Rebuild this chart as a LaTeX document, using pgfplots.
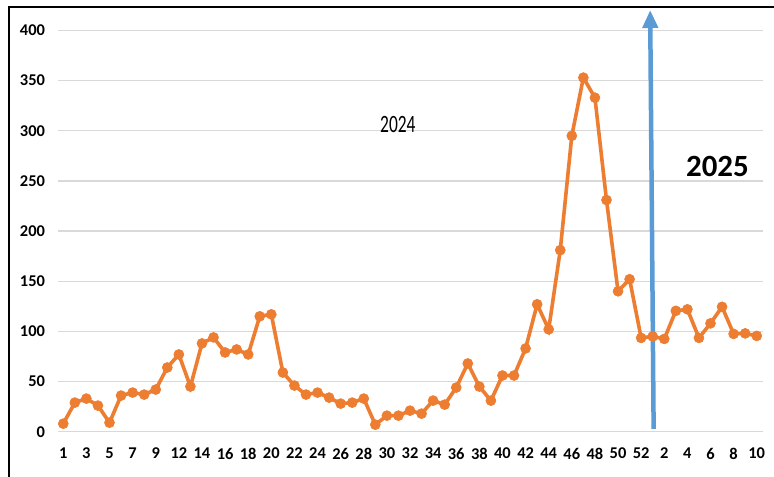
\documentclass[border=0pt]{standalone}
\usepackage{fontspec}
\setmainfont{Carlito}
\usepackage{graphicx}
\usepackage{pgfplots}
\pgfplotsset{compat=1.18}
\usetikzlibrary{arrows.meta}
\definecolor{lineorange}{HTML}{ED7D31}
\definecolor{arrowblue}{HTML}{5B9BD5}
\definecolor{gridgray}{HTML}{D9D9D9}
\newcommand{\tickfont}{\fontsize{16.5}{17}\selectfont\bfseries}
\begin{document}
\begin{tikzpicture}[x=1bp,y=1bp]
\path[use as bounding box] (0,0) rectangle (774,477);
\fill[white] (0,0) rectangle (774,477);
\draw[line width=1.4bp] (9,-5) -- (9,470) -- (780,470);
\begin{axis}[
  at={(57.5bp,45.3bp)}, anchor=south west,
  scale only axis, width=705bp, height=401.2bp,
  xmin=-0.5, xmax=60.5, ymin=0, ymax=400,
  axis line style={draw=none},
  major tick length=0pt,
  ytick={0,50,...,400},
  ymajorgrids,
  grid style={gridgray, line width=1.2bp},
  xtick={0,2,...,60},
  xticklabels={1,3,5,7,9,12,14,16,18,20,22,24,26,28,30,32,34,36,38,40,42,44,46,48,50,52,2,4,6,8,10},
  /pgf/number format/assume math mode=true,
  yticklabel style={font=\tickfont, xshift=-9bp},
  xticklabel style={font=\tickfont, yshift=-13bp},
  clip=false,
]
\addplot[lineorange, line width=3.6bp, mark=*, mark size=5bp, mark options={solid, fill=lineorange, draw=lineorange, line width=0.6bp}] coordinates {
(0,8) (1,29) (2,33) (3,26) (4,9) (5,36) (6,39) (7,37) (8,42) (9,64)
(10,77) (11,45) (12,88) (13,94) (14,79) (15,82) (16,77) (17,115) (18,117) (19,59)
(20,46) (21,37) (22,39) (23,34) (24,28) (25,29) (26,33) (27,7) (28,16) (29,16)
(30,21) (31,18) (32,31) (33,27) (34,44) (35,68) (36,45) (37,31) (38,56) (39,56)
(40,83) (41,127) (42,102) (43,181) (44,295) (45,353) (46,333) (47,231) (48,140) (49,152)
(50,93.5) (51,95) (52,92.5) (53,120.5) (54,122) (55,93.5) (56,108) (57,124.5) (58,97.5) (59,98)
(60,95.5)
};
\draw[arrowblue, line width=4.5bp, -{Triangle[length=18bp,width=15bp]}] (axis cs:51.08,2.7) -- (axis cs:50.78,420.4);
\node at (axis cs:28.95,305.8) {\scalebox{0.7}[1]{\fontsize{25}{25}\selectfont 2024}};
\node at (axis cs:56.6,264) {\fontsize{31}{31}\selectfont\bfseries 2025};
\end{axis}
\end{tikzpicture}
\end{document}
